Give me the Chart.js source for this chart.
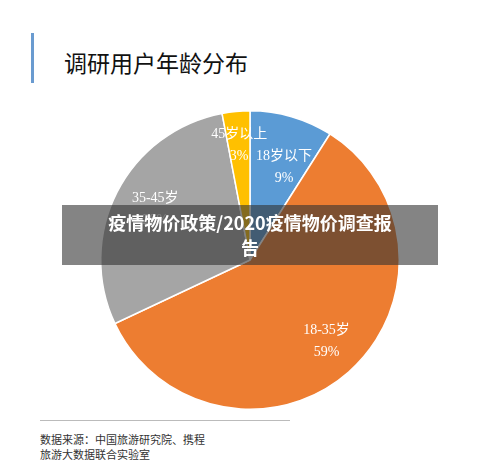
<!DOCTYPE html>
<html><head><meta charset="utf-8">
<script src="https://cdn.jsdelivr.net/npm/chart.js@4"></script>
<style>
body{margin:0;width:500px;height:472px;background:#fff;position:relative;overflow:hidden;font-family:"Liberation Serif","Noto Sans CJK SC",serif;}
#bar{position:absolute;left:31px;top:33px;width:3px;height:50px;background:#6a9bd0;}
#title{position:absolute;left:64px;top:45px;font-size:23px;color:#111;font-family:"Noto Sans CJK SC";}
#wrap{position:absolute;left:98px;top:108px;width:304px;height:304px;}
#line{position:absolute;left:40px;top:420px;width:250px;height:1px;background:#bbb;}
#foot{position:absolute;left:40px;top:432px;font-size:11px;line-height:15px;color:#333;font-family:"Noto Sans CJK SC";}
#banner{position:absolute;left:62px;top:205px;width:376px;height:60px;background:rgba(50,50,50,0.6);color:#fff;font-weight:bold;font-size:18px;line-height:25px;text-align:center;font-family:"Noto Sans CJK SC";padding-top:5px;box-sizing:border-box;}
</style></head><body>
<div id="bar"></div>
<div id="title">调研用户年龄分布</div>
<div id="wrap"><canvas id="c" width="304" height="304"></canvas></div>
<div id="line"></div>
<div id="foot">数据来源：中国旅游研究院、携程<br>旅游大数据联合实验室</div>
<div id="banner">疫情物价政策/2020疫情物价调查报<br>告</div>
<script>
const categories=["18岁以下","18-35岁","35-45岁","45岁以上"];
const values=[9,59,29,3];
const colors=["#5b9bd5","#ed7d31","#a5a5a5","#ffc000"];
const labelR=[0.66,0.75,0.72,0.77];
const labelShift=[0.07,-0.03,0.02,0];
const labelPlugin={id:"lbl",afterDatasetsDraw(chart){
  const ctx=chart.ctx;const meta=chart.getDatasetMeta(0);
  ctx.save();ctx.fillStyle="#fff";ctx.font='14px "Liberation Serif","Noto Sans CJK SC"';
  ctx.textAlign="center";ctx.textBaseline="middle";
  meta.data.forEach((a,i)=>{
    const mid=(a.startAngle+a.endAngle)/2+labelShift[i];
    const r=a.outerRadius*labelR[i];
    const x=a.x+Math.cos(mid)*r,y=a.y+Math.sin(mid)*r;
    ctx.fillText(categories[i],x,y-11);
    ctx.fillText(values[i]+"%",x,y+11);
  });ctx.restore();}};
new Chart(document.getElementById("c"),{type:"pie",
 data:{labels:categories,datasets:[{data:values,backgroundColor:colors,borderColor:"#fff",borderWidth:1.5}]},
 options:{responsive:false,animation:false,layout:{padding:2},plugins:{legend:{display:false},tooltip:{enabled:false}}},
 plugins:[labelPlugin]});
</script></body></html>
